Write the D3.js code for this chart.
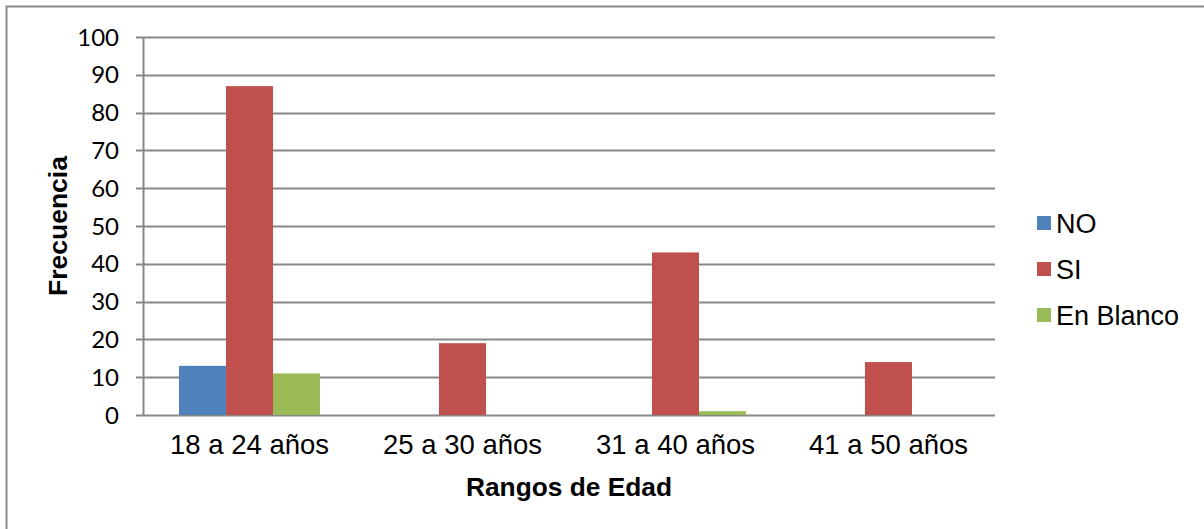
<!DOCTYPE html>
<html>
<head>
<meta charset="utf-8">
<script src="https://cdn.jsdelivr.net/npm/d3@7"></script>
<style>
  body { margin: 0; background: #fff; }
</style>
</head>
<body>
<div id="chart"></div>
<script>
var categories = ["18 a 24 años", "25 a 30 años", "31 a 40 años", "41 a 50 años"];
var seriesNames = ["NO", "SI", "En Blanco"];
var noValues = [13, 0, 0, 0];
var siValues = [87, 19, 43, 14];
var blancoValues = [11, 0, 1, 0];
var yTicks = [0, 10, 20, 30, 40, 50, 60, 70, 80, 90, 100];
var colors = ["#4f81bd", "#c0504d", "#9bbb59"];

var seriesValues = [noValues, siValues, blancoValues];

var W = 1204, H = 529;
var margin = {top: 37, right: 209, bottom: 114, left: 143},
    width = W - margin.left - margin.right,
    height = H - margin.top - margin.bottom;

var svg = d3.select("#chart")
  .append("svg")
    .attr("width", W)
    .attr("height", H);

// outer frame (only left and top edges are visible in the picture)
svg.append("path")
  .attr("d", "M6.5," + H + "V6.5H" + W)
  .attr("fill", "none")
  .attr("stroke", "#8c8c8c")
  .attr("stroke-width", 2);

var g = svg.append("g")
  .attr("transform", "translate(" + margin.left + "," + margin.top + ")");

var x0 = d3.scaleBand()
  .domain(categories)
  .range([0, width])
  .paddingInner(0.338)
  .paddingOuter(0.169);

var x1 = d3.scaleBand()
  .domain(seriesNames)
  .range([0, x0.bandwidth()]);

var y = d3.scaleLinear()
  .domain([0, 100])
  .range([height, 0]);

// gridlines
g.append("g")
  .selectAll("line")
  .data(yTicks)
  .join("line")
    .attr("x1", -7)
    .attr("x2", width)
    .attr("y1", function(d) { return Math.round(y(d)) + 0.5; })
    .attr("y2", function(d) { return Math.round(y(d)) + 0.5; })
    .attr("stroke", "#888")
    .attr("stroke-width", 2);

// y axis line
g.append("line")
  .attr("x1", 0.5).attr("x2", 0.5)
  .attr("y1", 0).attr("y2", height + 1)
  .attr("stroke", "#888")
  .attr("stroke-width", 2);

// y tick labels
g.append("g")
  .selectAll("text")
  .data(yTicks)
  .join("text")
    .attr("x", -24)
    .attr("y", function(d) { return y(d); })
    .attr("dy", "0.36em")
    .attr("text-anchor", "end")
    .attr("font-family", "Lato, 'Open Sans', sans-serif")
    .attr("font-size", 24)
    .attr("fill", "#000")
    .text(function(d) { return d; });

// bars
var groups = g.append("g")
  .selectAll("g")
  .data(categories)
  .join("g")
    .attr("transform", function(d) { return "translate(" + x0(d) + ",0)"; });

groups.selectAll("rect")
  .data(function(d, i) {
    return seriesNames.map(function(s, j) { return {series: s, value: seriesValues[j][i], color: colors[j]}; });
  })
  .join("rect")
    .attr("x", function(d) { return x1(d.series); })
    .attr("y", function(d) { return y(d.value); })
    .attr("width", x1.bandwidth())
    .attr("height", function(d) { return height - y(d.value); })
    .attr("fill", function(d) { return d.color; });

// x category labels
g.append("g")
  .selectAll("text")
  .data(categories)
  .join("text")
    .attr("x", function(d) { return x0(d) + x0.bandwidth() / 2; })
    .attr("y", height + 39)
    .attr("text-anchor", "middle")
    .attr("font-family", "'Liberation Sans', Arial, sans-serif")
    .attr("font-size", 27.5)
    .attr("fill", "#000")
    .text(function(d) { return d; });

// axis titles
svg.append("text")
  .attr("x", margin.left + width / 2)
  .attr("y", 496)
  .attr("text-anchor", "middle")
  .attr("font-family", "'Liberation Sans', Arial, sans-serif")
  .attr("font-weight", "bold")
  .attr("font-size", 26.3)
  .text("Rangos de Edad");

svg.append("text")
  .attr("transform", "translate(67," + (226) + ") rotate(-90)")
  .attr("text-anchor", "middle")
  .attr("font-family", "'Liberation Sans', Arial, sans-serif")
  .attr("font-weight", "bold")
  .attr("font-size", 26.5)
  .text("Frecuencia");

// legend
var legend = svg.append("g")
  .attr("transform", "translate(1037,223)");

var items = legend.selectAll("g")
  .data(seriesNames)
  .join("g")
    .attr("transform", function(d, i) { return "translate(0," + (i * 46) + ")"; });

items.append("rect")
  .attr("x", 0)
  .attr("y", -7)
  .attr("width", 14)
  .attr("height", 14)
  .attr("fill", function(d, i) { return colors[i]; });

items.append("text")
  .attr("x", 19)
  .attr("y", 0)
  .attr("dy", "0.36em")
  .attr("font-family", "'Liberation Sans', Arial, sans-serif")
  .attr("font-size", 27)
  .text(function(d) { return d; });
</script>
</body>
</html>
